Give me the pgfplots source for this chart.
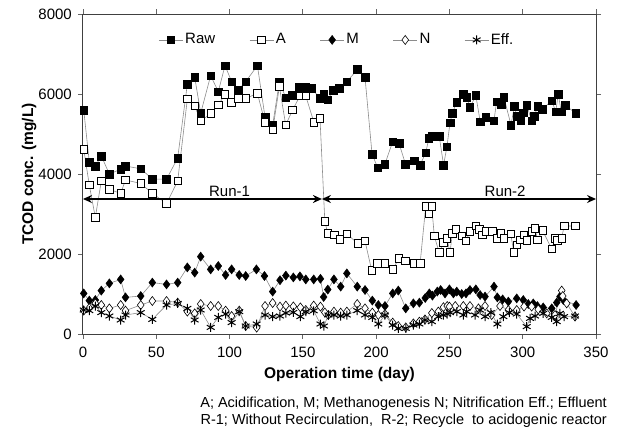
\documentclass[border=0pt]{standalone}
\usepackage{fontspec}
\setmainfont{Liberation Sans}
\usepackage{pgfplots}
\pgfplotsset{compat=1.18}
\usetikzlibrary{arrows.meta}

\begin{document}
\fontsize{15pt}{17pt}\selectfont
\begin{tikzpicture}
\useasboundingbox (0,0) rectangle (619pt,432pt);
\begin{axis}[
  at={(83pt,98pt)}, anchor=south west,
  scale only axis, width=513pt, height=320pt,
  xmin=0, xmax=350, ymin=0, ymax=8000,
  xtick={0,50,...,350}, ytick={0,2000,4000,6000,8000},
  tick align=outside, major tick length=5pt,
  tick style={black!60, line width=0.8pt},
  axis line style={black!75, line width=1pt},
  /pgf/number format/assume math mode=true,
  /pgf/number format/1000 sep={},
  ticklabel style={font=\fontsize{15pt}{17pt}\selectfont},
  xticklabel style={yshift=-3pt},
  yticklabel style={xshift=-1pt},
  xlabel={\textbf{Operation time (day)}},
  ylabel={\textbf{TCOD conc. (mg/L)}},
  xlabel style={at={(axis description cs:0.5,-0.125)}, anchor=center, font=\fontsize{15.5pt}{17pt}\selectfont},
  ylabel style={at={(axis description cs:-0.105,0.5)}, anchor=center, font=\fontsize{15.5pt}{17pt}\selectfont},
  legend columns=5,
  legend style={at={(0.495,0.919)}, anchor=center, draw=none, fill=none,
    font=\fontsize{15pt}{17pt}\selectfont,
    /tikz/every even column/.append style={column sep=32pt}},
  legend image code/.code={\draw[mark repeat=2,mark phase=2] plot coordinates {(0pt,0pt) (12pt,0pt) (24pt,0pt)};},
  every axis plot/.append style={line width=0.6pt, color=black!45},
  clip=false,
]
% Raw
\addplot[mark=square*, mark size=3.8pt, mark options={fill=black, draw=black, line width=0.6pt}] table {
x y
0.5 5600
4.3 4300
8.4 4200
12.5 4450
18 4000
25.7 4120
29 4200
39.4 4130
47.3 3875
57 3870
64.6 4400
71.2 6250
76.2 6420
80.3 5520
87.1 6460
92.3 6060
96.9 6710
101.4 6310
106 6100
111 6310
119 6710
124.2 5420
129.4 5225
134 6310
138.3 5910
143 5975
147.6 6170
151.5 6170
156 6140
161.7 5890
164.4 6000
167 5860
170.8 6100
174.9 6140
180 6310
187.3 6615
192.4 6415
197.2 4500
201 4160
206 4250
211.3 4810
215.6 4770
220 4250
226 4330
230 4225
233.8 4530
236 4890
238.3 4950
243 4950
246 4225
248.3 4680
250.4 5285
252 5520
255 5800
259.5 5990
261.8 5915
264 5665
268 5965
271 5310
274.7 5420
280.4 5335
282.2 5810
285.2 5750
287.2 5915
292 5225
294.3 5700
295.9 5450
298.8 5335
300.4 5535
302.7 5725
306.1 5335
308 5450
310.2 5700
313.4 5615
319.8 5835
322.5 5560
324.3 6000
326.2 5560
328.9 5725
336.1 5520
};
\addlegendentry{Raw}
% A
\addplot[mark=square*, mark size=3.8pt, mark options={fill=white, draw=black, line width=0.7pt}] table {
x y
0.5 4620
4.3 3725
8.4 2915
12.5 3825
18 3615
25.7 3515
29 3850
39.4 3765
47.3 3515
57 3265
64.6 3825
71.2 5875
76.2 5700
80.3 5325
87.1 5510
92.3 5725
96.9 5990
101.4 5790
106 5890
111 5890
119 6015
124.2 5285
129.4 5100
134 6185
138.3 5225
143 5600
148 5950
152 5950
157.6 5285
161.7 5390
165 2810
167 2515
171.5 2475
175.3 2365
180 2500
187.4 2265
192.4 2325
197 1585
201 1765
206 1765
211.3 1615
215.6 1890
220 1825
226 1765
230 1765
233.8 3185
236 3000
237.9 3185
239.7 2450
243 2035
246 2285
248.3 2390
250.4 2035
252 2515
254.3 2615
258.4 2450
261.3 2325
264 2560
268 2700
270.3 2615
272.6 2475
274.9 2560
279.4 2560
282.6 2390
285.2 2515
287.2 2390
291.8 2500
294 2035
295.9 2225
298.1 2350
300.9 2475
302.7 2335
306.1 2560
308.4 2640
310 2350
313.6 2585
319.8 2125
322 2390
323.6 2335
326.6 2390
328.2 2700
335.9 2700
};
\addlegendentry{A}
% M
\addplot[mark=diamond*, mark size=4.5pt, mark options={fill=black, draw=black, line width=0.5pt}] table {
x y
0.5 1015
4.3 835
8.4 850
12.5 1085
18 1265
25.7 1365
29 915
39.4 950
47.3 1285
57 1240
64.6 1285
71.2 1665
76.2 1535
80.3 1935
87.1 1615
92.3 1700
97.3 1475
101.4 1615
106.6 1475
111 1450
118.3 1615
123.8 1450
129.4 1060
134.4 1345
138.4 1460
143.5 1415
148 1440
152 1365
157.4 1365
162 1380
164.2 925
167 1110
171.2 1365
175.8 1185
180 1515
187.1 1185
192.4 1100
197.4 835
201.5 725
206 700
211.3 1015
215.1 1085
220.2 640
225.4 765
229.5 785
233.5 900
236.3 1015
238.4 960
241.7 1060
244 1100
247 1015
250 1115
252.7 1015
255 1060
258.4 1000
261.3 1015
264 1100
268 1115
270.9 975
274.3 935
280.4 1185
282.7 915
286.3 865
290.2 810
295.9 890
300.4 850
303.8 750
307.2 765
310 700
314 665
319.8 640
323.2 785
325.4 935
327.7 850
336.4 725
};
\addlegendentry{M}
% N
\addplot[mark=diamond*, mark size=4.5pt, mark options={fill=white, draw=black, line width=0.6pt}] table {
x y
0.5 585
4.3 650
8.4 765
12.5 725
18 640
25.7 725
29 585
39.4 725
47.3 825
57 825
64.6 785
71.2 560
76.2 515
80.3 750
87.1 700
92.3 700
97.3 585
101.4 450
106.6 585
111 200
118.5 160
124.2 700
129.4 775
134.4 685
138.4 710
143.5 690
148.3 665
152 600
157.4 710
162 685
165 540
167.4 475
171.2 560
175.8 535
180 560
187.1 750
192.4 640
197.4 535
201.5 475
206 500
211.3 285
215.1 200
220.2 165
225.4 265
229.5 310
233.3 365
238 525
242.4 560
245.9 670
248.5 700
250 685
254 700
259.5 700
264 700
269.8 640
274.3 700
278.8 475
284.5 700
290.2 600
295.9 600
300.9 685
306.1 685
310.6 615
316.4 515
322 475
326.6 1085
327.3 950
330 765
335.7 435
};
\addlegendentry{N}
% Eff
\addplot[mark=asterisk, mark size=4.5pt, mark options={draw=black, line width=1pt}] table {
x y
0.5 600
4.3 585
8.4 700
12.5 535
18 450
25.7 350
29 475
39.4 535
47.3 365
57 725
64.6 765
71.2 640
76.2 350
80.3 600
87.1 165
92.3 415
97.3 500
101.4 285
106.6 560
111 200
118.5 250
124.2 475
129.4 435
134.4 450
138.4 525
143.5 540
148.3 435
152 560
157.4 580
162 250
164.4 200
167.4 475
171.2 475
175.8 450
180 475
187.1 585
192.4 475
197.4 415
201.5 250
206 475
211.3 225
215.1 140
220.2 140
225.4 225
229.5 250
233.3 350
238 310
242.4 435
245.8 475
248.5 500
250.4 535
255 560
259.5 475
261.8 560
267.5 475
270.9 600
274.3 435
278.2 535
282.7 250
286.8 435
290.9 535
295.9 500
302.7 185
305 390
308.4 450
314 515
319.8 415
323.2 310
325.4 515
328.2 435
335.7 450
};
\addlegendentry{Eff.}
% Run arrows
\draw[black, line width=1.6pt, {Stealth[length=9pt,width=8pt,inset=3pt]}-{Stealth[length=9pt,width=8pt,inset=3pt]}] (axis cs:0,3375) -- (axis cs:163,3375);
\draw[black, line width=1.6pt, {Stealth[length=9pt,width=8pt,inset=3pt]}-{Stealth[length=9pt,width=8pt,inset=3pt]}] (axis cs:163,3375) -- (axis cs:350,3375);
\node[anchor=south, inner sep=1pt, font=\fontsize{15pt}{17pt}\selectfont] at (axis cs:100,3400) {Run-1};
\node[anchor=south, inner sep=1pt, font=\fontsize{15pt}{17pt}\selectfont] at (axis cs:288,3400) {Run-2};
\end{axis}
\node[anchor=east, inner sep=0pt, font=\fontsize{14.5pt}{16pt}\selectfont] at (607pt,28pt) {A; Acidification, M; Methanogenesis N; Nitrification Eff.; Effluent};
\node[anchor=east, inner sep=0pt, font=\fontsize{14.5pt}{16pt}\selectfont] at (607pt,11pt) {R-1; Without Recirculation,\ \ R-2; Recycle\ \ to acidogenic reactor};
\end{tikzpicture}
\end{document}
